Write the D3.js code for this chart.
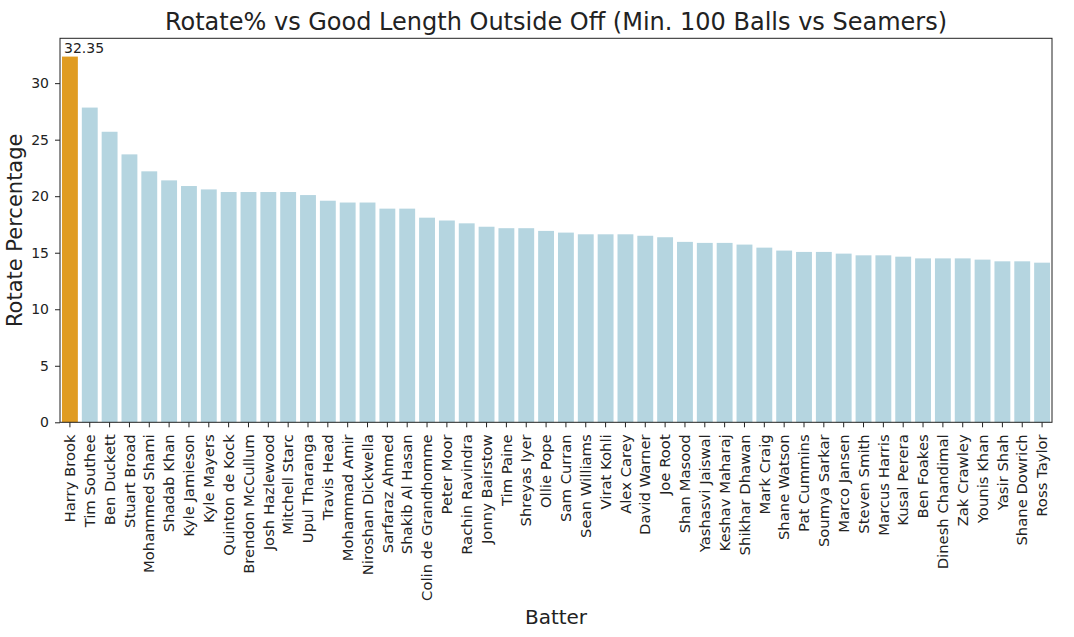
<!DOCTYPE html>
<html><head><meta charset="utf-8">
<script src="https://cdn.jsdelivr.net/npm/d3@7"></script>
<style>body{margin:0;background:#fff;} text{font-family:"DejaVu Sans",sans-serif;}</style>
</head><body><svg id="c" width="1074" height="637"></svg>
<script>
const batters = ["Harry Brook","Tim Southee","Ben Duckett","Stuart Broad","Mohammed Shami","Shadab Khan","Kyle Jamieson","Kyle Mayers","Quinton de Kock","Brendon McCullum","Josh Hazlewood","Mitchell Starc","Upul Tharanga","Travis Head","Mohammad Amir","Niroshan Dickwella","Sarfaraz Ahmed","Shakib Al Hasan","Colin de Grandhomme","Peter Moor","Rachin Ravindra","Jonny Bairstow","Tim Paine","Shreyas Iyer","Ollie Pope","Sam Curran","Sean Williams","Virat Kohli","Alex Carey","David Warner","Joe Root","Shan Masood","Yashasvi Jaiswal","Keshav Maharaj","Shikhar Dhawan","Mark Craig","Shane Watson","Pat Cummins","Soumya Sarkar","Marco Jansen","Steven Smith","Marcus Harris","Kusal Perera","Ben Foakes","Dinesh Chandimal","Zak Crawley","Younis Khan","Yasir Shah","Shane Dowrich","Ross Taylor"];
const rotatePct = [32.35,27.84,25.7,23.7,22.2,21.4,20.9,20.6,20.37,20.37,20.37,20.37,20.1,19.6,19.44,19.44,18.9,18.9,18.1,17.85,17.6,17.3,17.17,17.17,16.93,16.78,16.63,16.63,16.63,16.5,16.37,15.96,15.87,15.87,15.72,15.45,15.19,15.07,15.07,14.92,14.77,14.77,14.65,14.5,14.5,14.5,14.39,14.24,14.24,14.12];
const yTicks = [0,5,10,15,20,25,30];
const title = "Rotate% vs Good Length Outside Off (Min. 100 Balls vs Seamers)";

const svg = d3.select("#c");
const L=60, R=1052, T=38.3, B=422.3;
const maxV = d3.max(rotatePct);
const x = d3.scaleBand().domain(batters).range([L,R]).paddingInner(0.2).paddingOuter(0.1);
const y = d3.scaleLinear().domain([0, maxV*1.05]).range([B,T]);

svg.selectAll("rect.bar").data(batters).enter().append("rect")
  .attr("class","bar")
  .attr("x", d=>x(d)).attr("width", x.bandwidth())
  .attr("y", (d,i)=>y(rotatePct[i])).attr("height",(d,i)=>B-y(rotatePct[i]))
  .attr("fill",(d,i)=> rotatePct[i]===maxV ? "#e09c22" : "#b5d5e0");

// annotation
svg.append("text").attr("x", x(batters[0])+2).attr("y", y(maxV)-3.5)
  .attr("font-size",14).attr("fill","#222").text(maxV.toFixed(2));

// axes
const xa = svg.append("g").attr("transform",`translate(0,${B})`)
  .call(d3.axisBottom(x).tickSize(5).tickSizeOuter(0));
xa.select(".domain").remove();
xa.selectAll("line").attr("stroke","#222").attr("stroke-width",1);
xa.selectAll("text").attr("font-size",14.8).attr("fill","#222")
  .attr("font-family","DejaVu Sans")
  .attr("transform","rotate(-90)").attr("text-anchor","end")
  .attr("x",-12).attr("y",0).attr("dy","0.35em");

const ya = svg.append("g").attr("transform",`translate(${L},0)`)
  .call(d3.axisLeft(y).tickValues(yTicks).tickSize(5).tickSizeOuter(0).tickFormat(d3.format("d")));
ya.select(".domain").remove();
ya.selectAll("line").attr("stroke","#222");
ya.selectAll("text").attr("font-size",14).attr("fill","#222").attr("font-family","DejaVu Sans").attr("x",-11);

svg.append("rect").attr("x",L).attr("y",T).attr("width",R-L).attr("height",B-T)
  .attr("fill","none").attr("stroke","#222").attr("stroke-width",1);

svg.append("text").attr("x",(L+R)/2).attr("y",29.5).attr("text-anchor","middle")
  .attr("font-size",24).attr("fill","#222").text(title);
svg.append("text").attr("x",(L+R)/2).attr("y",624).attr("text-anchor","middle")
  .attr("font-size",20).attr("fill","#222").text("Batter");
svg.append("text").attr("transform",`translate(22,${(T+B)/2}) rotate(-90)`).attr("text-anchor","middle")
  .attr("font-size",21).attr("fill","#222").text("Rotate Percentage");
</script></body></html>
